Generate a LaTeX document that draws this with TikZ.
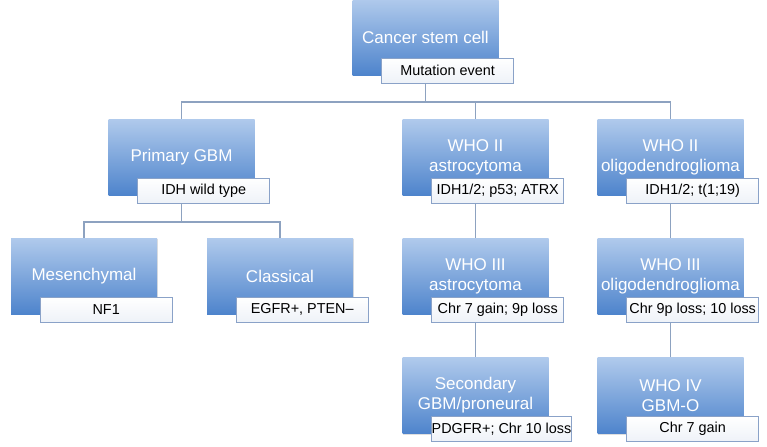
\documentclass[tikz,border=0pt]{standalone}
\usepackage{fontspec}
\setmainfont{Liberation Sans}
\usetikzlibrary{positioning,shadows}

\definecolor{boxtop}{RGB}{176,202,236}
\definecolor{boxbot}{RGB}{78,132,204}
\definecolor{tagbot}{RGB}{238,242,248}
\definecolor{tagline}{RGB}{138,162,200}
\definecolor{linkcol}{RGB}{141,162,192}

\tikzset{
	tumor/.style={minimum width=73pt, minimum height=38pt, inner sep=0pt,
		top color=boxtop, bottom color=boxbot, text=white, align=center,
		font=\fontsize{8.5}{10}\selectfont,
		drop shadow={shadow xshift=0.4pt, shadow yshift=-0.6pt, opacity=0.25}},
	tag/.style={anchor=north west, minimum width=66pt, minimum height=12.5pt,
		inner sep=0pt, draw=tagline, line width=0.6pt,
		top color=white, bottom color=tagbot,
		font=\fontsize{7.2}{8}\selectfont},
	link/.style={draw=linkcol, line width=0.9pt}
}

\begin{document}
\begin{tikzpicture}[x=0.5pt,y=0.5pt]
	\useasboundingbox (0,0) rectangle (767,446);
	
	% Stammzelle oben
	\node[tumor] (csc) at (425.5,409) {Cancer stem cell};
	\node[tag] (csc-t) at ([shift={(14.5pt,-29.5pt)}]csc.north west) {Mutation event};
	
	% Primaeres GBM und Subtypen
	\node[tumor] (gbm) at (181.5,289) {Primary GBM};
	\node[tag] (gbm-t) at ([shift={(14.5pt,-29.5pt)}]gbm.north west) {IDH wild type};
	\node[tumor] (mes) at (84,170) {Mesenchymal};
	\node[tag] (mes-t) at ([shift={(14.5pt,-29.5pt)}]mes.north west) {NF1};
	\node[tumor] (cla) at (280,170) {Classical};
	\node[tag] (cla-t) at ([shift={(14.5pt,-29.5pt)}]cla.north west) {EGFR+, PTEN--};
	
	% Astrozytom-Linie
	\node[tumor] (a2) at (475.5,289) {WHO II\\astrocytoma};
	\node[tag] (a2-t) at ([shift={(14.5pt,-29.5pt)}]a2.north west) {IDH1/2; p53; ATRX};
	\node[tumor] (a3) at (475.5,170) {WHO III\\astrocytoma};
	\node[tag] (a3-t) at ([shift={(14.5pt,-29.5pt)}]a3.north west) {Chr 7 gain; 9p loss};
	\node[tumor] (sec) at (475.5,50.5) {Secondary\\GBM/proneural};
	\node[tag] (sec-t) at ([shift={(14.5pt,-29.5pt)}]sec.north west) {PDGFR+; Chr 10 loss};
	
	% Oligodendrogliom-Linie
	\node[tumor] (o2) at (670.5,289) {WHO II\\oligodendroglioma};
	\node[tag] (o2-t) at ([shift={(14.5pt,-29.5pt)}]o2.north west) {IDH1/2; t(1;19)};
	\node[tumor] (o3) at (670.5,170) {WHO III\\oligodendroglioma};
	\node[tag] (o3-t) at ([shift={(14.5pt,-29.5pt)}]o3.north west) {Chr 9p loss; 10 loss};
	\node[tumor] (o4) at (670.5,50.5) {WHO IV\\GBM-O};
	\node[tag] (o4-t) at ([shift={(14.5pt,-29.5pt)}]o4.north west) {Chr 7 gain};
	
	% Verbindungen
	\foreach \child in {gbm,a2,o2} {
		\draw[link] (csc |- csc-t.south) -- ++(0,-9pt) -| (\child.north);
	}
	\foreach \child in {mes,cla} {
		\draw[link] (gbm |- gbm-t.south) -- ++(0,-9pt) -| (\child.north);
	}
	\draw[link] (a2 |- a2-t.south) -- (a3.north);
	\draw[link] (a3 |- a3-t.south) -- (sec.north);
	\draw[link] (o2 |- o2-t.south) -- (o3.north);
	\draw[link] (o3 |- o3-t.south) -- (o4.north);
\end{tikzpicture}
\end{document}
